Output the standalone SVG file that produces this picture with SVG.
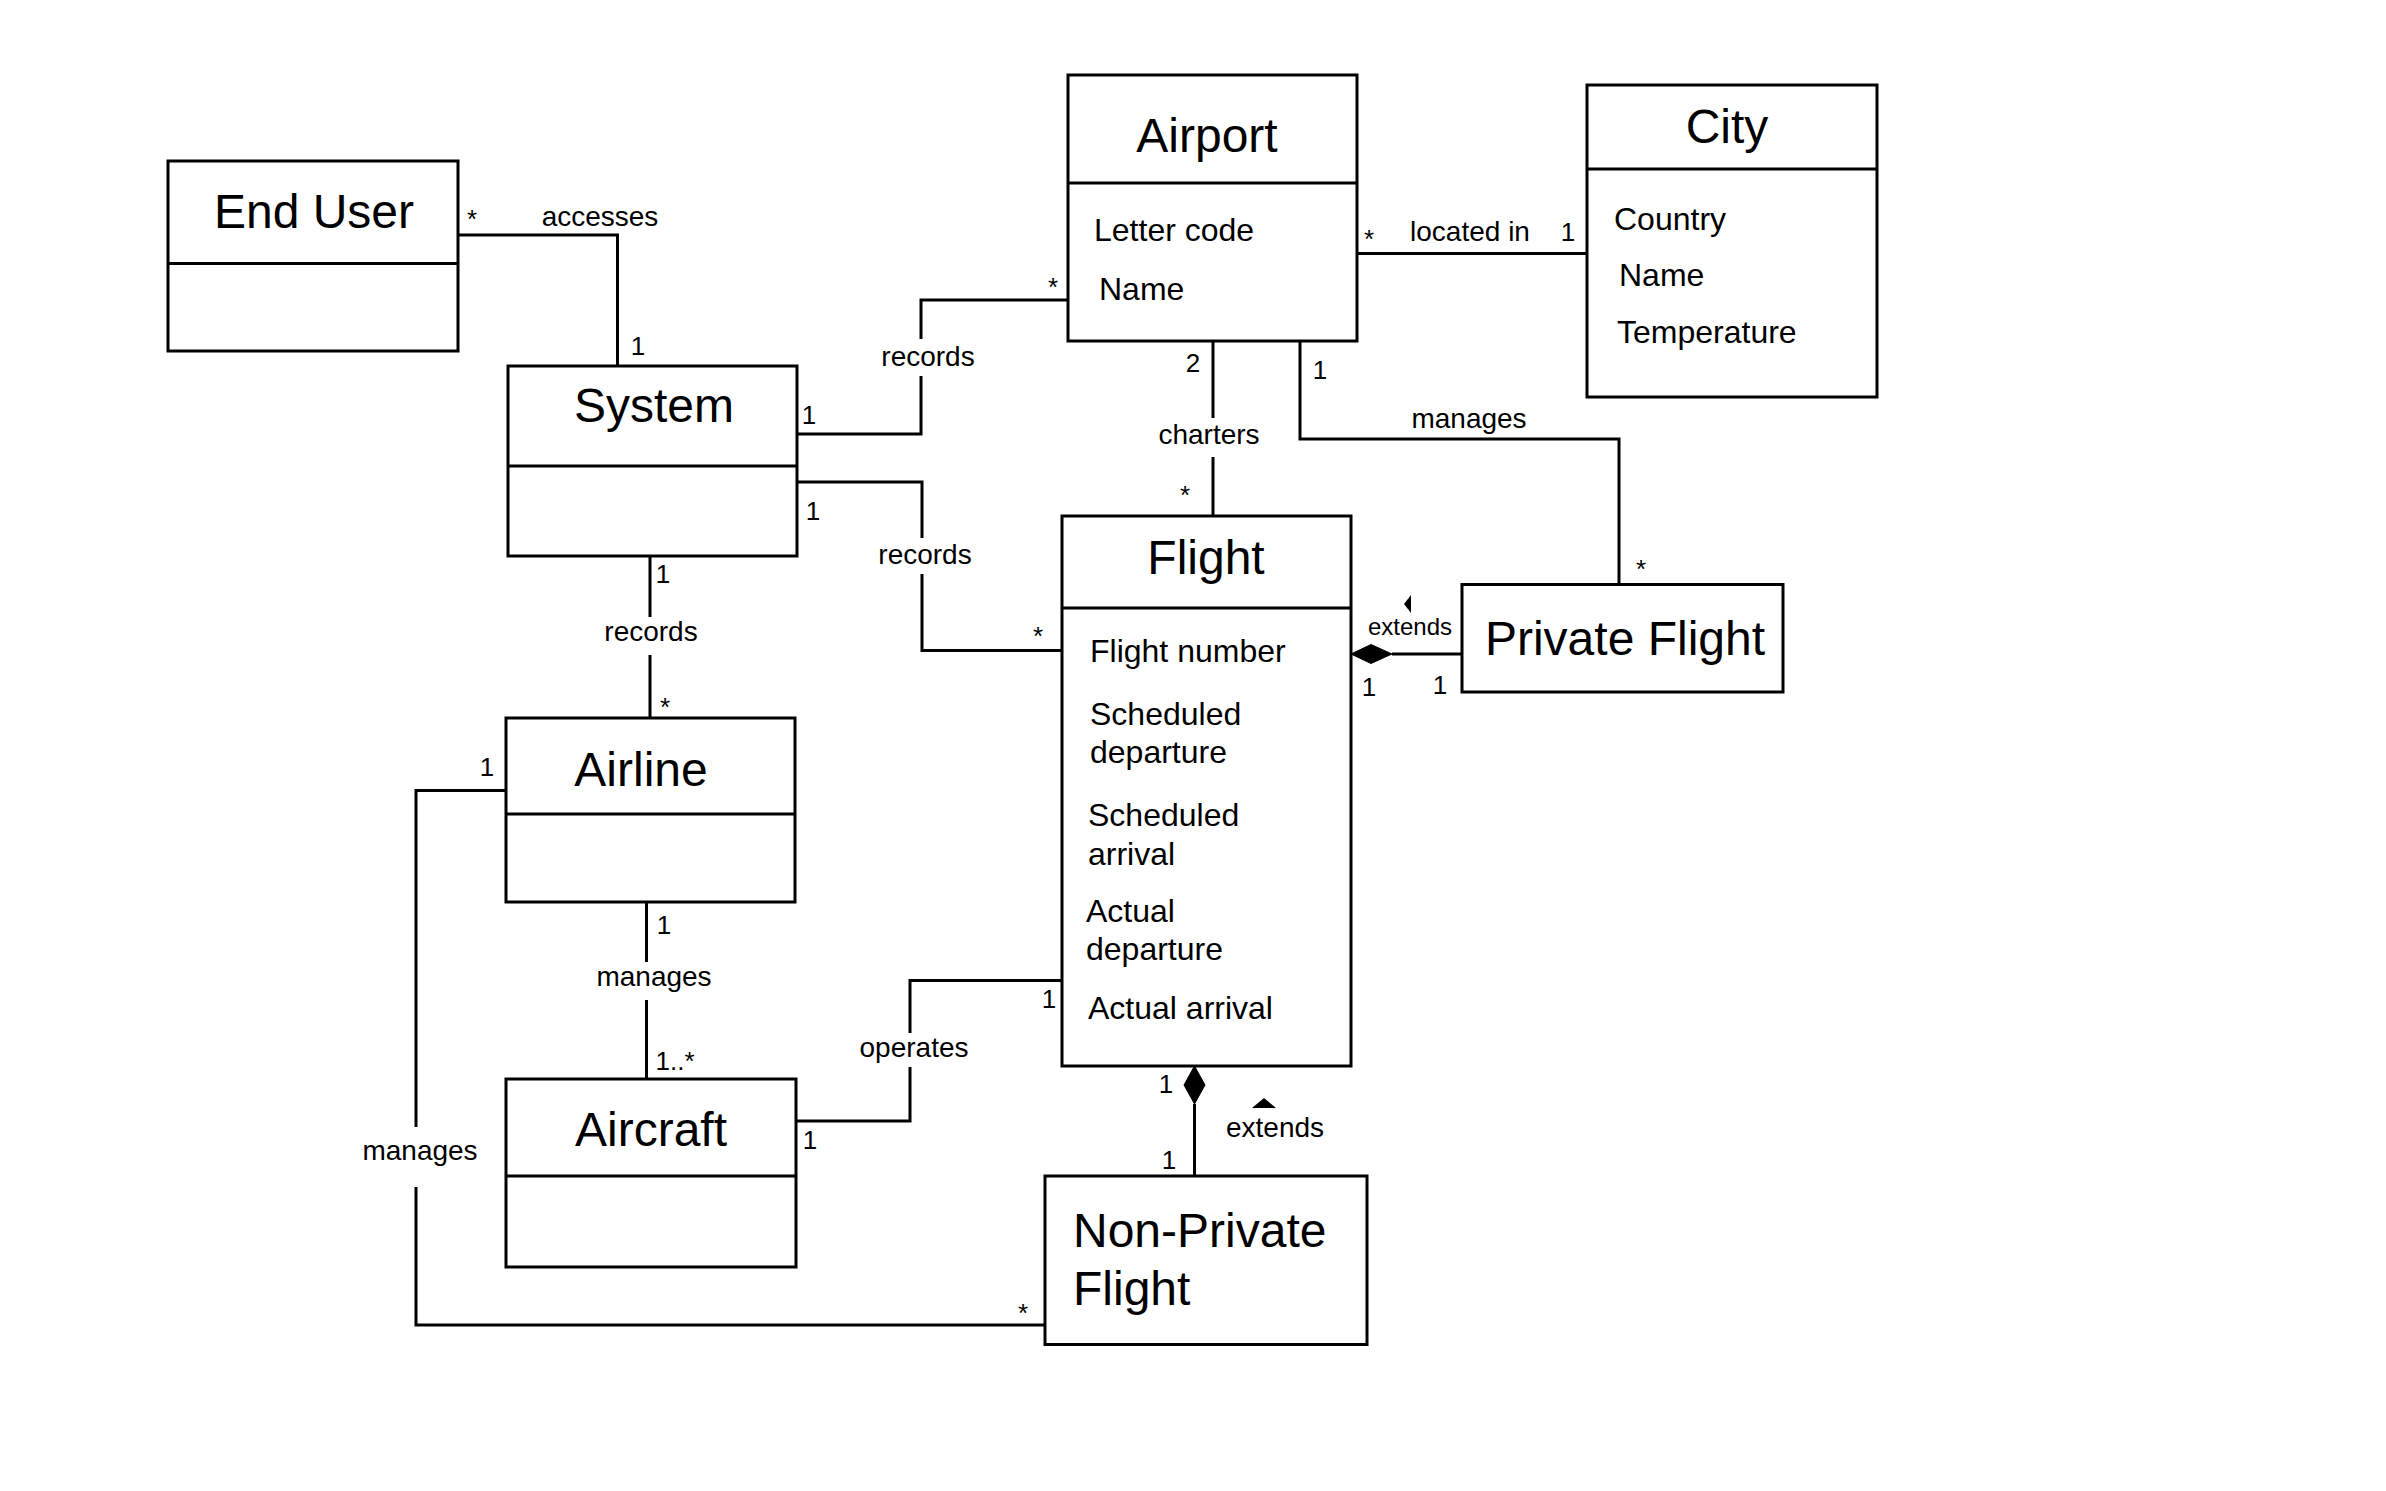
<svg xmlns="http://www.w3.org/2000/svg" width="2386" height="1491" viewBox="0 0 2386 1491">
<style>
.box{fill:#fff;stroke:#000;stroke-width:3}
.div{stroke:#000;stroke-width:3}
.ln{fill:none;stroke:#000;stroke-width:3}
text{font-family:"Liberation Sans",Arial,sans-serif;fill:#000}
.t{font-size:48px;text-anchor:middle}
.ts{font-size:48px;text-anchor:start}
.a{font-size:32px}
.l{font-size:28px;text-anchor:middle}
.m{font-size:26px;text-anchor:middle}
.s{font-size:24px;text-anchor:middle}
</style>
<rect width="2386" height="1491" fill="#fff"/>
<g id="connectors">
  <polyline class="ln" points="458,235 617.5,235 617.5,366"/>
  <text class="l" x="600" y="226">accesses</text>
  <text class="m" x="472" y="228">*</text>
  <text class="m" x="638" y="355">1</text>

  <polyline class="ln" points="797,434 921,434 921,376"/>
  <polyline class="ln" points="921,339 921,300 1068,300"/>
  <text class="l" x="928" y="366">records</text>
  <text class="m" x="809" y="424">1</text>
  <text class="m" x="1053" y="296">*</text>

  <polyline class="ln" points="797,482 922,482 922,538"/>
  <polyline class="ln" points="922,574 922,650.5 1062,650.5"/>
  <text class="l" x="925" y="564">records</text>
  <text class="m" x="813" y="520">1</text>
  <text class="m" x="1038" y="645">*</text>

  <line class="ln" x1="650" y1="556" x2="650" y2="617"/>
  <line class="ln" x1="650" y1="655" x2="650" y2="718"/>
  <text class="l" x="651" y="641">records</text>
  <text class="m" x="663" y="583">1</text>
  <text class="m" x="665" y="716">*</text>

  <line class="ln" x1="1357" y1="253.5" x2="1587" y2="253.5"/>
  <text class="l" x="1470" y="241">located in</text>
  <text class="m" x="1369" y="248">*</text>
  <text class="m" x="1568" y="241">1</text>

  <line class="ln" x1="1213" y1="341" x2="1213" y2="418"/>
  <line class="ln" x1="1213" y1="457" x2="1213" y2="516"/>
  <text class="l" x="1209" y="444">charters</text>
  <text class="m" x="1193" y="372">2</text>
  <text class="m" x="1185" y="504">*</text>

  <polyline class="ln" points="1300,341 1300,439 1619,439 1619,584.5"/>
  <text class="l" x="1469" y="428">manages</text>
  <text class="m" x="1320" y="379">1</text>
  <text class="m" x="1641" y="578">*</text>

  <line class="ln" x1="1392" y1="654" x2="1462" y2="654"/>
  <polygon points="1351,654 1371,644.5 1392,654 1371,663.5" fill="#000" stroke="#000" stroke-width="1"/>
  <polygon points="1404,604 1411,595 1411,613" fill="#000"/>
  <text class="s" x="1410" y="635">extends</text>
  <text class="m" x="1369" y="696">1</text>
  <text class="m" x="1440" y="694">1</text>

  <line class="ln" x1="646.5" y1="902" x2="646.5" y2="962"/>
  <line class="ln" x1="646.5" y1="1000" x2="646.5" y2="1079"/>
  <text class="l" x="654" y="986">manages</text>
  <text class="m" x="664" y="934">1</text>
  <text class="m" x="675" y="1070">1..*</text>

  <polyline class="ln" points="796,1121 910,1121 910,1067"/>
  <polyline class="ln" points="910,1033 910,980.5 1062,980.5"/>
  <text class="l" x="914" y="1057">operates</text>
  <text class="m" x="810" y="1149">1</text>
  <text class="m" x="1049" y="1008">1</text>

  <line class="ln" x1="1194.5" y1="1104" x2="1194.5" y2="1176"/>
  <polygon points="1194.5,1066 1205,1085 1194.5,1104 1184,1085" fill="#000" stroke="#000" stroke-width="1"/>
  <polygon points="1252,1108 1264,1098 1276,1108" fill="#000"/>
  <text class="l" x="1275" y="1137">extends</text>
  <text class="m" x="1166" y="1093">1</text>
  <text class="m" x="1169" y="1169">1</text>

  <polyline class="ln" points="506,790.5 416,790.5 416,1127"/>
  <polyline class="ln" points="416,1187 416,1325 1045,1325"/>
  <text class="l" x="420" y="1160">manages</text>
  <text class="m" x="487" y="776">1</text>
  <text class="m" x="1023" y="1322">*</text>
</g>

<g id="end-user">
  <rect class="box" x="168" y="161" width="290" height="190"/>
  <line class="div" x1="168" y1="263.5" x2="458" y2="263.5"/>
  <text class="t" x="314" y="228">End User</text>
</g>
<g id="system">
  <rect class="box" x="508" y="366" width="289" height="190"/>
  <line class="div" x1="508" y1="466" x2="797" y2="466"/>
  <text class="t" x="654" y="422">System</text>
</g>
<g id="airport">
  <rect class="box" x="1068" y="75" width="289" height="266"/>
  <line class="div" x1="1068" y1="183" x2="1357" y2="183"/>
  <text class="t" x="1207" y="152">Airport</text>
  <text class="a" x="1094" y="241">Letter code</text>
  <text class="a" x="1099" y="300">Name</text>
</g>
<g id="city">
  <rect class="box" x="1587" y="85" width="290" height="312"/>
  <line class="div" x1="1587" y1="169" x2="1877" y2="169"/>
  <text class="t" x="1727" y="143">City</text>
  <text class="a" x="1614" y="230">Country</text>
  <text class="a" x="1619" y="286">Name</text>
  <text class="a" x="1617" y="343">Temperature</text>
</g>
<g id="flight">
  <rect class="box" x="1062" y="516" width="289" height="550"/>
  <line class="div" x1="1062" y1="608" x2="1351" y2="608"/>
  <text class="t" x="1206" y="574">Flight</text>
  <text class="a" x="1090" y="662">Flight number</text>
  <text class="a" x="1090" y="725">Scheduled</text>
  <text class="a" x="1090" y="763">departure</text>
  <text class="a" x="1088" y="826">Scheduled</text>
  <text class="a" x="1088" y="865">arrival</text>
  <text class="a" x="1086" y="922">Actual</text>
  <text class="a" x="1086" y="960">departure</text>
  <text class="a" x="1088" y="1019">Actual arrival</text>
</g>
<g id="private-flight">
  <rect class="box" x="1462" y="584.5" width="321" height="107.5"/>
  <text class="t" x="1625" y="655">Private Flight</text>
</g>
<g id="airline">
  <rect class="box" x="506" y="718" width="289" height="184"/>
  <line class="div" x1="506" y1="814" x2="795" y2="814"/>
  <text class="t" x="641" y="786">Airline</text>
</g>
<g id="aircraft">
  <rect class="box" x="506" y="1079" width="290" height="188"/>
  <line class="div" x1="506" y1="1176" x2="796" y2="1176"/>
  <text class="t" x="651" y="1146">Aircraft</text>
</g>
<g id="non-private-flight">
  <rect class="box" x="1045" y="1176" width="322" height="168.5"/>
  <text class="ts" x="1073" y="1247">Non-Private</text>
  <text class="ts" x="1073" y="1305">Flight</text>
</g>
</svg>
